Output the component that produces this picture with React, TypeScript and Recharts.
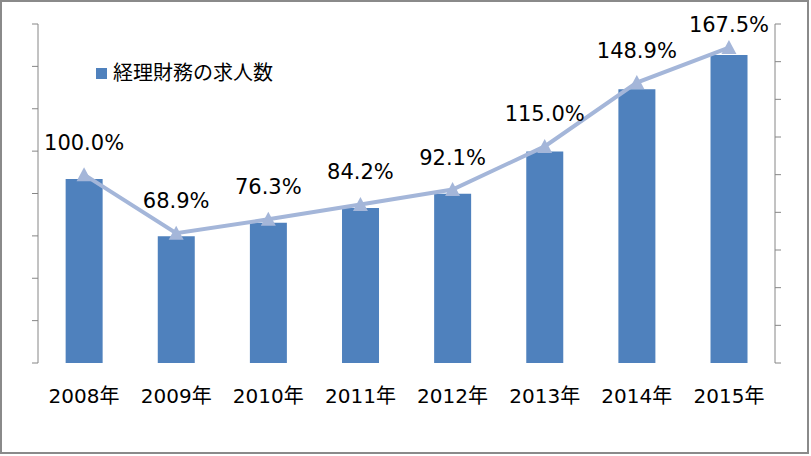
import React from 'react';
import { ComposedChart, Bar, Line, XAxis, YAxis, Legend, LabelList } from 'recharts';

const categories = ['2008年', '2009年', '2010年', '2011年', '2012年', '2013年', '2014年', '2015年'];
const jobCounts = [4340, 2990, 3310, 3655, 3995, 4990, 6460, 7270];
const growthPct = [100.0, 68.9, 76.3, 84.2, 92.1, 115.0, 148.9, 167.5];
const leftTicks = [0, 1000, 2000, 3000, 4000, 5000, 6000, 7000, 8000];
const rightTicks = [0, 20, 40, 60, 80, 100, 120, 140, 160, 180];
const boundaryTicks = [0, 1, 2, 3, 4, 5, 6, 7, 8];
const legendLabel = '経理財務の求人数';

const data = categories.map((c, i) => ({ year: c, count: jobCounts[i], pct: growthPct[i] }));

const FONT = '"DejaVu Sans", "Noto Sans CJK JP", sans-serif';
const BAR = '#4F81BD';
const LINE = '#A4B6D9';
const AXIS = '#868686';

const NoTick = () => <g />;

const Triangle = (props: any) => {
  const { cx, cy } = props;
  if (cx == null || cy == null) return <g />;
  const w = 15;
  const h = 13;
  return (
    <path
      d={`M${cx},${cy - h / 2 - 1} L${cx + w / 2},${cy + h / 2} L${cx - w / 2},${cy + h / 2} Z`}
      fill={LINE}
      stroke="none"
    />
  );
};

const PctLabel = (props: any) => {
  const { x, y, value } = props;
  const baseline = Math.max(y - 25, 32);
  return (
    <text x={x} y={baseline} textAnchor="middle" fontSize={21} fontFamily={FONT} fill="#000">
      {Number(value).toFixed(1)}%
    </text>
  );
};

const LegendContent = () => (
  <div style={{ display: 'flex', alignItems: 'center', whiteSpace: 'nowrap', fontFamily: FONT }}>
    <span style={{ display: 'inline-block', width: 11, height: 11, background: BAR, marginRight: 6 }} />
    <span style={{ fontSize: 20, color: '#000', lineHeight: '24px' }}>{legendLabel}</span>
  </div>
);

export default function App() {
  return (
    <div style={{ position: 'absolute', left: 0, top: 0, width: 811, height: 456, background: '#fff' }}>
      <div
        style={{
          position: 'absolute',
          left: 0,
          top: 0,
          width: 809,
          height: 454,
          border: '2px solid #8a8a8a',
          boxSizing: 'border-box',
        }}
      />
      <div style={{ position: 'absolute', left: 0, top: 0 }}>
        <ComposedChart
          width={811}
          height={456}
          data={data}
          margin={{ top: 24, right: 26, bottom: 43, left: 28 }}
          barCategoryGap="30%"
        >
          <XAxis
            xAxisId={0}
            type="number"
            domain={[0, 8]}
            ticks={boundaryTicks}
            height={0}
            tick={NoTick}
            tickSize={7}
            tickLine={{ stroke: AXIS }}
            axisLine={{ stroke: AXIS }}
            allowDataOverflow
          />
          <XAxis
            xAxisId={1}
            dataKey="year"
            height={50}
            tickLine={false}
            axisLine={false}
            tickMargin={20}
            tick={{ fontSize: 20, fontFamily: FONT, fill: '#000' }}
            interval={0}
          />
          <YAxis
            yAxisId="left"
            orientation="left"
            width={10}
            domain={[0, 8000]}
            ticks={leftTicks}
            tick={NoTick}
            tickSize={6}
            tickLine={{ stroke: AXIS }}
            axisLine={{ stroke: AXIS }}
          />
          <YAxis
            yAxisId="right"
            orientation="right"
            width={10}
            domain={[0, 180]}
            ticks={rightTicks}
            tick={NoTick}
            tickSize={6}
            tickLine={{ stroke: AXIS }}
            axisLine={{ stroke: AXIS }}
          />
          <Legend
            layout="horizontal"
            verticalAlign="middle"
            align="center"
            wrapperStyle={{ left: 96, top: 61, width: 'auto' }}
            content={<LegendContent />}
          />
          <Bar
            xAxisId={1}
            yAxisId="left"
            dataKey="count"
            name={legendLabel}
            fill={BAR}
            isAnimationActive={false}
          />
          <Line
            xAxisId={1}
            yAxisId="right"
            dataKey="pct"
            stroke={LINE}
            strokeWidth={4}
            dot={<Triangle />}
            activeDot={false}
            isAnimationActive={false}
            legendType="none"
          >
            <LabelList dataKey="pct" content={<PctLabel />} />
          </Line>
        </ComposedChart>
      </div>
    </div>
  );
}
